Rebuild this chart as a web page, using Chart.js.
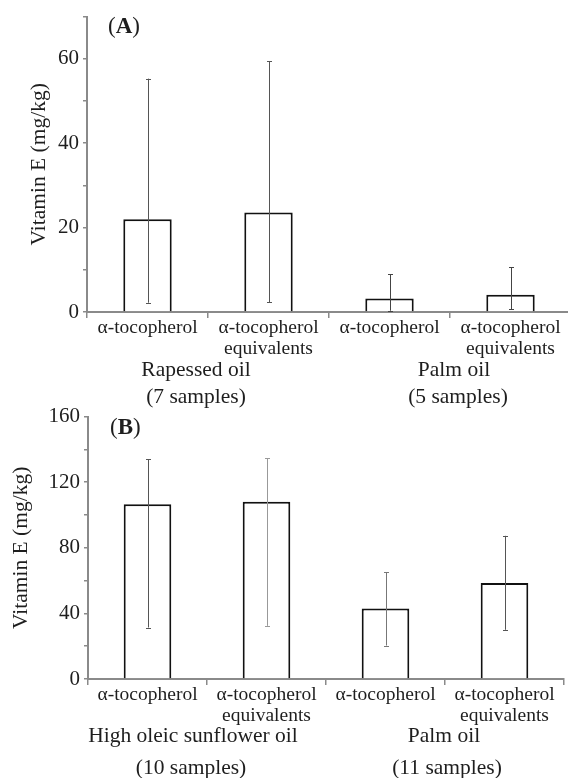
<!DOCTYPE html>
<html>
<head>
<meta charset="utf-8">
<script src="https://cdn.jsdelivr.net/npm/chart.js@4/dist/chart.umd.min.js"></script>
<style>
  html, body { margin: 0; padding: 0; background: #fff; overflow: hidden; width: 568px; height: 778px; }
  #wrap { position: relative; width: 580px; height: 778px; }
  canvas { position: absolute; left: 0; }
  #cA { top: 0; }
  #cB { top: 400px; }
</style>
</head>
<body>
<div id="wrap">
  <canvas id="cA" width="580" height="408"></canvas>
  <canvas id="cB" width="580" height="378"></canvas>
</div>
<script>
// ---- data ----
const categories = [
  ['α-tocopherol'],
  ['α-tocopherol', 'equivalents'],
  ['α-tocopherol'],
  ['α-tocopherol', 'equivalents']
];
const groupsA = [['Rapessed oil', '(7 samples)'], ['Palm oil', '(5 samples)']];
const groupsB = [['High oleic sunflower oil', '(10 samples)'], ['Palm oil', '(11 samples)']];

const meansA = [22.0, 23.6, 3.2, 4.1];
const lowA   = [2.2, 2.3, 0.3, 0.6];
const highA  = [55.3, 59.4, 9.0, 10.6];

const meansB = [106.5, 108.1, 43.0, 58.5];
const lowB   = [31.4, 32.4, 20.4, 30.0];
const highB  = [134.0, 134.6, 65.1, 87.3];

const yTicksA = [0, 20, 40, 60];
const yTicksB = [0, 40, 80, 120, 160];

const SERIF = '"Liberation Serif", "Times New Roman", serif';
const TXT = '#1e1e1e';
const AXIS = '#8a8a8a';

// ---- plugins ----
const errorBars = {
  id: 'errorBars',
  afterDatasetsDraw(chart, args, opts) {
    const ctx = chart.ctx, y = chart.scales.y;
    chart.getDatasetMeta(0).data.forEach((bar, i) => {
      const lo = y.getPixelForValue(opts.low[i]);
      const hi = y.getPixelForValue(opts.high[i]);
      const x = Math.round(bar.x) + 0.5;
      ctx.save();
      ctx.strokeStyle = opts.colors[i];
      ctx.lineWidth = 1;
      ctx.beginPath();
      ctx.moveTo(x, lo); ctx.lineTo(x, hi);
      ctx.moveTo(x - 2.5, Math.round(hi) + 0.5); ctx.lineTo(x + 2.5, Math.round(hi) + 0.5);
      ctx.moveTo(x - 2.5, Math.round(lo) + 0.5); ctx.lineTo(x + 2.5, Math.round(lo) + 0.5);
      ctx.stroke();
      ctx.restore();
    });
  }
};

const extraText = {
  id: 'extraText',
  afterDraw(chart, args, opts) {
    const ctx = chart.ctx, xs = chart.scales.x, area = chart.chartArea;
    ctx.save();
    ctx.fillStyle = TXT;
    ctx.textBaseline = 'middle';
    // panel letter: "(" regular, letter bold, ")" regular
    let px = opts.letterX, py = opts.letterY;
    ctx.textAlign = 'left';
    ctx.font = '23px ' + SERIF;
    ctx.fillText('(', px, py);
    px += ctx.measureText('(').width;
    ctx.font = 'bold 23px ' + SERIF;
    ctx.fillText(opts.letter, px, py);
    px += ctx.measureText(opts.letter).width;
    ctx.font = '23px ' + SERIF;
    ctx.fillText(')', px, py);
    // group labels
    ctx.textAlign = 'center';
    ctx.font = '21.5px ' + SERIF;
    opts.groups.forEach((g, gi) => {
      const cx = (xs.getPixelForValue(gi * 2) + xs.getPixelForValue(gi * 2 + 1)) / 2;
      g.forEach((line, li) => {
        ctx.fillText(line, cx + opts.nudge[gi][li], area.bottom + opts.lineY[li]);
      });
    });
    ctx.restore();
  }
};

function makeChart(id, means, low, high, errColors, yMax, yTicks, cfg) {
  return new Chart(document.getElementById(id), {
    type: 'bar',
    data: {
      labels: categories,
      datasets: [{
        data: means,
        backgroundColor: '#ffffff',
        borderColor: '#111111',
        borderWidth: 2,
        borderSkipped: 'start',
        categoryPercentage: 1,
        barPercentage: 0.4
      }]
    },
    options: {
      responsive: false,
      animation: false,
      events: [],
      layout: { padding: { top: cfg.padTop, right: cfg.padRight, left: 0, bottom: 0 } },
      plugins: {
        legend: { display: false },
        tooltip: { enabled: false },
        errorBars: { low, high, colors: errColors },
        extraText: cfg.text
      },
      scales: {
        x: {
          type: 'category',
          offset: true,
          afterFit(s) { s.height = cfg.xHeight; },
          border: { color: AXIS, width: 2 },
          grid: { offset: true, drawOnChartArea: false, drawTicks: true, tickLength: 6, color: AXIS, lineWidth: 1.5 },
          ticks: {
            autoSkip: false, maxRotation: 0, minRotation: 0,
            color: TXT, padding: 0,
            font: { family: SERIF, size: 19.5, lineHeight: 1.05 }
          }
        },
        y: {
          min: 0, max: yMax,
          afterFit(s) { s.width = cfg.yWidth; },
          border: { color: AXIS, width: 2 },
          grid: { drawOnChartArea: false, drawTicks: true, tickLength: 4, color: AXIS, lineWidth: 1.5 },
          ticks: {
            stepSize: yTicks[1] / 2,
            padding: 4,
            color: TXT,
            font: { family: SERIF, size: 21 },
            callback: v => (yTicks.includes(v) ? String(v) : '')
          },
          title: {
            display: true,
            text: 'Vitamin E (mg/kg)',
            color: TXT,
            font: { family: SERIF, size: 21.5 },
            padding: { top: cfg.titlePad, bottom: 0 }
          }
        }
      }
    },
    plugins: [errorBars, extraText]
  });
}

makeChart('cA', meansA, lowA, highA, ['#555', '#555', '#444', '#444'], 70, yTicksA, {
  padTop: 10, padRight: 9, xHeight: 96, yWidth: 87, titlePad: 26,
  text: { letter: 'A', letterX: 108, letterY: 27, groups: groupsA,
          nudge: [[-12, -12], [4, 8]], lineY: [58, 85] }
});

makeChart('cB', meansB, lowB, highB, ['#555', '#999', '#777', '#555'], 160, yTicksB, {
  padTop: 13, padRight: 16, xHeight: 99, yWidth: 88, titlePad: 8,
  text: { letter: 'B', letterX: 110, letterY: 28, groups: groupsB,
          nudge: [[-14, -16], [-1, 2]], lineY: [57, 89] }
});
</script>
</body>
</html>
